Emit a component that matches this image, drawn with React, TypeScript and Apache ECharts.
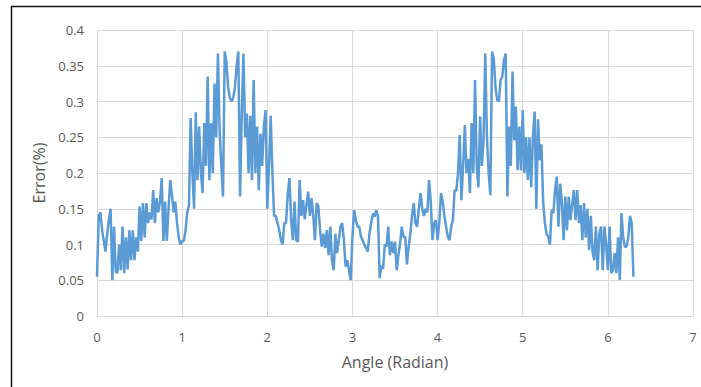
import React, { useEffect, useRef } from "react";
import * as echarts from "echarts";

// Angles are sampled every ANGLE_STEP radians, starting at 0.
const ANGLE_STEP = 0.02;

// Error (%), in angle order.
const errorRise1 = [
  0.055, 0.14, 0.145, 0.12, 0.105, 0.09, 0.115, 0.135, 0.15, 0.05,
  0.125, 0.062, 0.06, 0.1, 0.064, 0.125, 0.06, 0.11, 0.065, 0.12,
  0.078, 0.12, 0.078, 0.11, 0.09, 0.153, 0.105, 0.158, 0.11, 0.158,
  0.13, 0.145, 0.135, 0.176, 0.13, 0.165, 0.145, 0.16, 0.193, 0.105,
  0.16, 0.105, 0.15, 0.19, 0.17, 0.145, 0.16, 0.13, 0.11, 0.1,
  0.105,
];
const errorPeak1 = [
  0.105, 0.12, 0.145, 0.155, 0.277, 0.2, 0.15, 0.285, 0.19, 0.265,
  0.2, 0.172, 0.27, 0.21, 0.335, 0.19, 0.27, 0.2, 0.325, 0.25,
  0.367, 0.26, 0.21, 0.167, 0.37, 0.355, 0.32, 0.305, 0.3, 0.305,
  0.32, 0.35, 0.37, 0.167, 0.28, 0.367, 0.25, 0.283, 0.2, 0.28,
  0.19, 0.33, 0.2, 0.265, 0.176, 0.255, 0.21, 0.265, 0.288, 0.15,
  0.21, 0.28, 0.2, 0.14,
];
const errorValley1 = [
  0.14, 0.13, 0.12, 0.106, 0.1, 0.13, 0.13, 0.17, 0.193, 0.135,
  0.106, 0.16, 0.106, 0.104, 0.19, 0.14, 0.162, 0.135, 0.155, 0.174,
  0.14, 0.165, 0.14, 0.106, 0.158, 0.153, 0.12, 0.097, 0.115, 0.095,
  0.12, 0.085, 0.125, 0.078, 0.064, 0.115, 0.088, 0.106, 0.125, 0.13,
  0.106, 0.069, 0.078, 0.064, 0.05, 0.111, 0.148, 0.134, 0.125, 0.125,
  0.111, 0.106, 0.1,
];
const errorRise2 = [
  0.095, 0.09, 0.115, 0.13, 0.143, 0.139, 0.148, 0.14, 0.053, 0.07,
  0.066, 0.1, 0.097, 0.125, 0.085, 0.104, 0.088, 0.104, 0.064, 0.085,
  0.102, 0.125, 0.11, 0.111, 0.072, 0.097, 0.115, 0.14, 0.158, 0.13,
  0.125, 0.15, 0.172, 0.15, 0.14, 0.15, 0.145, 0.19, 0.16, 0.106,
  0.13, 0.134, 0.106, 0.13, 0.172, 0.16, 0.14, 0.125, 0.111, 0.106,
  0.125, 0.134, 0.176,
];
const errorPeak2 = [
  0.175, 0.2, 0.253, 0.162, 0.21, 0.267, 0.2, 0.22, 0.172, 0.27,
  0.2, 0.33, 0.209, 0.18, 0.279, 0.21, 0.246, 0.367, 0.25, 0.2,
  0.169, 0.37, 0.36, 0.32, 0.302, 0.3, 0.33, 0.335, 0.358, 0.367,
  0.167, 0.265, 0.21, 0.342, 0.246, 0.293, 0.204, 0.265, 0.204, 0.288,
  0.2, 0.25, 0.19, 0.25, 0.18, 0.25, 0.286, 0.15, 0.275, 0.218,
  0.24, 0.16, 0.13, 0.115,
];
const errorValley2 = [
  0.111, 0.1, 0.148, 0.144, 0.176, 0.195, 0.125, 0.185, 0.16, 0.106,
  0.167, 0.12, 0.167, 0.134, 0.155, 0.176, 0.134, 0.176, 0.13, 0.155,
  0.106, 0.158, 0.11, 0.15, 0.092, 0.14, 0.09, 0.078, 0.125, 0.064,
  0.115, 0.125, 0.064, 0.125, 0.1, 0.064, 0.125, 0.06, 0.064, 0.088,
  0.06, 0.11, 0.05, 0.144, 0.11, 0.097, 0.097, 0.11, 0.14, 0.13,
  0.055,
];

const errorValues = [
  ...errorRise1,
  ...errorPeak1,
  ...errorValley1,
  ...errorRise2,
  ...errorPeak2,
  ...errorValley2,
];

const X_MIN = 0;
const X_MAX = 7;
const X_INTERVAL = 1;
const Y_MIN = 0;
const Y_MAX = 0.4;
const Y_INTERVAL = 0.05;

const FONT = "'Open Sans', 'Noto Sans', sans-serif";
const TEXT_COLOR = "#595959";
const GRID_COLOR = "#d9d9d9";

export default function App() {
  const ref = useRef<HTMLDivElement>(null);

  useEffect(() => {
    if (!ref.current) return;
    document.body.style.margin = "0";
    const chart = echarts.init(ref.current, undefined, { renderer: "svg" });
    const data = errorValues.map((v, i) => [
      Number((i * ANGLE_STEP).toFixed(2)),
      v,
    ]);
    chart.setOption({
      animation: false,
      backgroundColor: "#ffffff",
      grid: { left: 97, right: 8, top: 30, bottom: 71 },
      xAxis: {
        type: "value",
        min: X_MIN,
        max: X_MAX,
        interval: X_INTERVAL,
        name: "Angle (Radian)",
        nameLocation: "middle",
        nameGap: 38,
        nameTextStyle: { color: TEXT_COLOR, fontSize: 16, fontFamily: FONT },
        axisLine: { show: true, lineStyle: { color: GRID_COLOR, width: 1 } },
        axisTick: { show: false },
        axisLabel: { color: TEXT_COLOR, fontSize: 13, fontFamily: FONT, margin: 14 },
        splitLine: { show: true, lineStyle: { color: GRID_COLOR, width: 1 } },
      },
      yAxis: {
        type: "value",
        min: Y_MIN,
        max: Y_MAX,
        interval: Y_INTERVAL,
        name: "Error(%)",
        nameLocation: "middle",
        nameGap: 44,
        nameTextStyle: { color: TEXT_COLOR, fontSize: 16, fontFamily: FONT },
        axisLine: { show: false },
        axisTick: { show: false },
        axisLabel: {
          color: TEXT_COLOR,
          fontSize: 13,
          fontFamily: FONT,
          margin: 13,
          formatter: (v: number) => String(Number(v.toFixed(2))),
        },
        splitLine: { show: true, lineStyle: { color: GRID_COLOR, width: 1 } },
      },
      series: [
        {
          type: "line",
          data,
          showSymbol: false,
          symbol: "none",
          lineStyle: { color: "#5B9BD5", width: 2.5 },
          z: 3,
        },
      ],
      graphic: [
        {
          type: "polyline",
          shape: { points: [[11.5, 387], [11.5, 6.5], [701, 6.5]] },
          style: { stroke: "#111111", lineWidth: 1.5, fill: "none" },
          z: 10,
        },
      ],
    });
    return () => chart.dispose();
  }, []);

  return (
    <div
      ref={ref}
      style={{ position: "absolute", left: 0, top: 0, width: 701, height: 387 }}
    />
  );
}
